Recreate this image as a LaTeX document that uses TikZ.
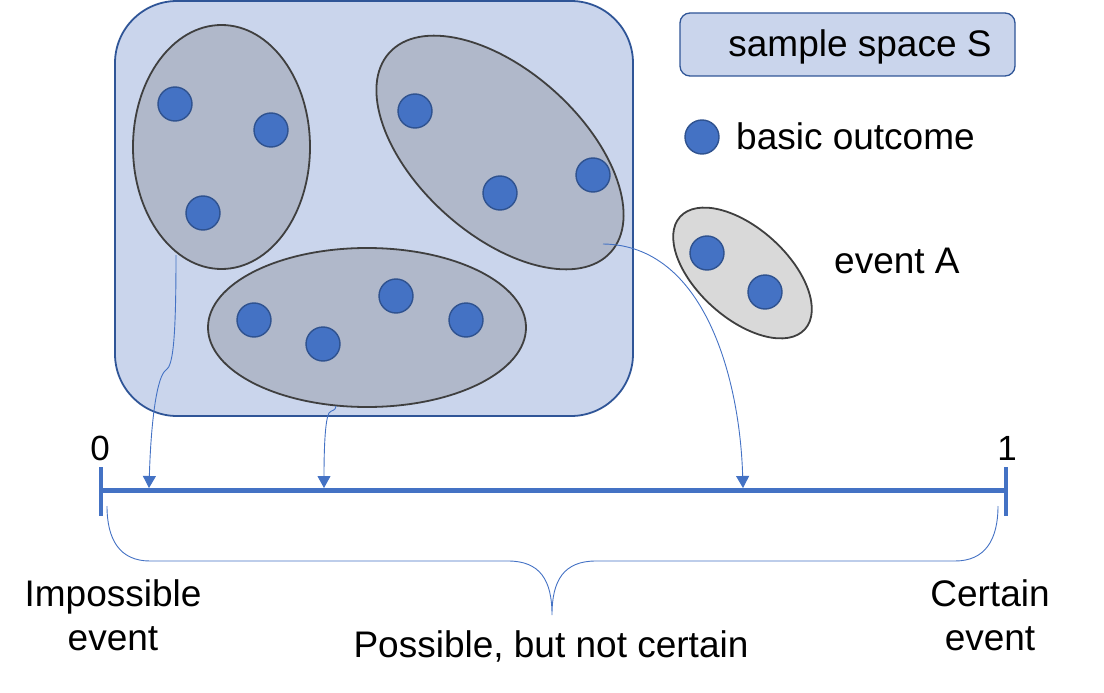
\documentclass[tikz,border=0pt]{standalone}
\usepackage{fontspec}
\setmainfont{Liberation Sans}
\usetikzlibrary{shapes.geometric,arrows.meta}
\definecolor{sbg}{HTML}{CAD5EC}
\definecolor{sedge}{HTML}{2F5597}
\definecolor{efill}{HTML}{B0B8CA}
\definecolor{eedge}{HTML}{3F3F3F}
\definecolor{afill}{HTML}{D9D9D9}
\definecolor{dotblue}{HTML}{4472C4}
\definecolor{dotedge}{HTML}{2F528F}
\definecolor{lineblue}{HTML}{4472C4}
\tikzset{
  dot/.style={circle,minimum size=34pt,inner sep=0pt,fill=dotblue,draw=dotedge,line width=1.4pt},
  evt/.style={ellipse,inner sep=0pt,fill=efill,draw=eedge,line width=1.8pt},
  lbl/.style={font=\fontsize{37}{40}\selectfont,inner sep=0pt,anchor=base},
  numlbl/.style={font=\fontsize{35}{38}\selectfont,inner sep=0pt,anchor=base},
  conn/.style={draw=lineblue,line width=0.9pt,-{Triangle[width=13pt,length=12pt]}},
  axisline/.style={draw=lineblue,line width=5pt},
}
\begin{document}
\begin{tikzpicture}[x=1pt,y=-1pt]
\useasboundingbox (0,0) rectangle (1104,693);
% sample space
\node[draw=sedge,fill=sbg,line width=1.8pt,rounded corners=62pt,minimum width=518pt,minimum height=415pt,inner sep=0pt] (S) at (374,208.5) {};
% events
\node[evt,minimum width=177pt,minimum height=244pt] (e1) at (221.5,147) {};
\node[evt,minimum width=298pt,minimum height=164pt,rotate=-42] (e2) at (500,152.5) {};
\node[evt,minimum width=318pt,minimum height=159pt] (e3) at (367,327.5) {};
% outcomes
\node[dot] (a1) at (175,104) {};
\node[dot] (a2) at (271,130) {};
\node[dot] (a3) at (203,213) {};
\node[dot] (b1) at (415,111) {};
\node[dot] (b2) at (500,193) {};
\node[dot] (b3) at (593,175) {};
\node[dot] (c1) at (254,320) {};
\node[dot] (c2) at (323,344) {};
\node[dot] (c3) at (396,296) {};
\node[dot] (c4) at (466,320) {};
% legend
\node[draw=sedge,fill=sbg,line width=1.3pt,rounded corners=10pt,minimum width=335pt,minimum height=63pt,inner sep=0pt] (ssbox) at (847.5,44.5) {};
\node[lbl] (sstext) at (860,57) {sample space S};
\node[dot] (legdot) at (702,137) {};
\node[lbl,anchor=base west] (botext) at (736,149) {basic outcome};
\node[evt,fill=afill,minimum width=168pt,minimum height=90pt,rotate=-42] (eA) at (742.5,273) {};
\node[dot] (eAd1) at (707,253) {};
\node[dot] (eAd2) at (765,292) {};
\node[lbl,anchor=base west] (eAtext) at (834,273) {event A};
% number line
\coordinate (n0) at (101,490);
\coordinate (n1) at (1006,490);
\coordinate (t0a) at (101,467);
\coordinate (t0b) at (101,516);
\coordinate (t1a) at (1006,467);
\coordinate (t1b) at (1006,516);
\draw[axisline] (n0) -- (n1);
\draw[draw=lineblue,line width=4.5pt] (t0a) -- (t0b);
\draw[draw=lineblue,line width=4.5pt] (t1a) -- (t1b);
\node[numlbl] (zero) at (100,460) {0};
\node[numlbl] (one) at (1007,460) {1};
% connectors
\coordinate (s1) at (176,255);
\coordinate (s2) at (336,406);
\coordinate (s3) at (603,244);
\coordinate (p1) at (149,488);
\coordinate (p2) at (324,488);
\coordinate (p3) at (743,488);
\draw[conn] (s1) .. controls (176,340) and (173,366) .. (166,370) .. controls (157,376) and (151,420) .. (p1);
\draw[conn] (s2) .. controls (336,411) and (331,410) .. (329,413) .. controls (325,420) and (324,450) .. (p2);
\draw[conn] (s3) .. controls (705,245) and (740,380) .. (p3);
% brace
\coordinate (bl) at (107,506);
\coordinate (br) at (998,506);
\coordinate (bm) at (552,615);
\draw[draw=lineblue,line width=0.9pt] (bl) .. controls (107,540) and (120,561) .. (150,561) -- (508,561) .. controls (540,561) and (552,580) .. (bm) .. controls (552,580) and (564,561) .. (596,561) -- (955,561) .. controls (985,561) and (998,540) .. (br);
% bottom labels
\node[lbl] (imp1) at (113,606) {Impossible};
\node[lbl] (imp2) at (113,650) {event};
\node[lbl] (cer1) at (990,606) {Certain};
\node[lbl] (cer2) at (990,650) {event};
\node[lbl] (pos) at (551,657) {Possible, but not certain};
\end{tikzpicture}
\end{document}
